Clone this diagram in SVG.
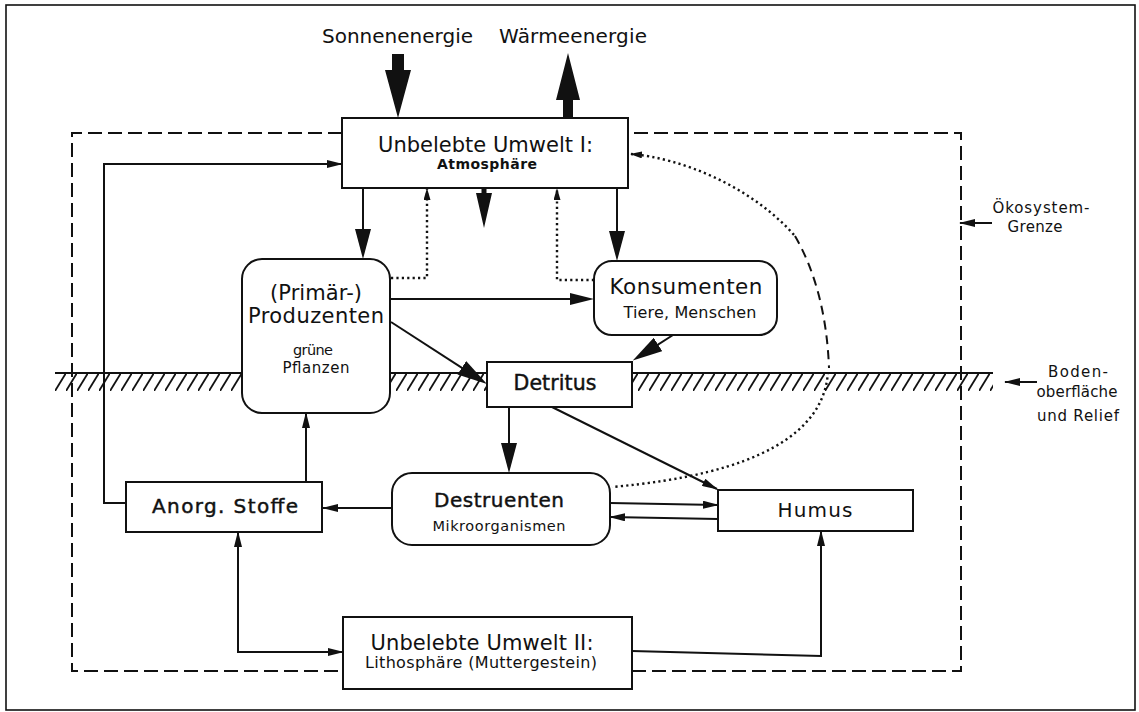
<svg xmlns="http://www.w3.org/2000/svg" width="1139" height="712" viewBox="0 0 1139 712">
<style>
text{font-family:"DejaVu Sans","Liberation Sans",sans-serif;fill:#111;text-anchor:middle}
.box{fill:#fff;stroke:#111;stroke-width:2}
.ln{fill:none;stroke:#111;stroke-width:2}
.dot{fill:none;stroke:#111;stroke-width:2.4;stroke-dasharray:2.2 3.2}
.dash{fill:none;stroke:#111;stroke-width:2;stroke-dasharray:14 6}
.semi{stroke:#111;stroke-width:0.45}
</style>
<defs>
<marker id="ah" viewBox="0 0 16 8" markerWidth="16" markerHeight="8" refX="15" refY="4" orient="auto-start-reverse" markerUnits="userSpaceOnUse"><path d="M0,0 L16,4 L0,8 Z" fill="#111"/></marker>
<marker id="ahs" viewBox="0 0 12 7" markerWidth="12" markerHeight="7" refX="11" refY="3.5" orient="auto-start-reverse" markerUnits="userSpaceOnUse"><path d="M0,0 L12,3.5 L0,7 Z" fill="#111"/></marker>
<marker id="ahm" viewBox="0 0 24 12" markerWidth="24" markerHeight="12" refX="6" refY="6" orient="auto" markerUnits="userSpaceOnUse"><path d="M0,0 L24,6 L0,12 Z" fill="#111"/></marker>
<marker id="ahb" viewBox="0 0 30 16" markerWidth="30" markerHeight="16" refX="8" refY="8" orient="auto" markerUnits="userSpaceOnUse"><path d="M0,0 L30,8 L0,16 Z" fill="#111"/></marker>
<pattern id="hatch" patternUnits="userSpaceOnUse" x="0" y="373" width="11" height="18"><path d="M0,18 L11,0" stroke="#111" stroke-width="1.8"/></pattern>
</defs>
<rect x="0" y="0" width="1139" height="712" fill="#fff"/>
<rect x="6" y="5" width="1129" height="705" fill="none" stroke="#111" stroke-width="1.6"/>

<g id="ground">
<rect x="55" y="373" width="938" height="18" fill="url(#hatch)"/>
<path d="M55,373 H993" class="ln" stroke-width="1.6"/>
</g>

<g id="boundary">
<path class="dash" d="M342,133 H72 V671 H343"/>
<path class="dash" d="M632,671 H961 V133 H628"/>
</g>

<g id="connectors">
<!-- energy -->
<path d="M392,54 H404 V70 H411 L398,118 L385,70 H392 Z" fill="#111"/>
<path d="M568,53 L580,100 H573 V118 H563 V100 H556 Z" fill="#111"/>
<!-- atmosphere down arrows -->
<path class="ln" stroke-width="5" d="M363,188 V237" marker-end="url(#ahb)"/>
<path d="M481.5,188 H486.5 V193 H492 L484,228 L476,193 H481.5 Z" fill="#111"/>
<path class="ln" stroke-width="5" d="M617,188 V239" marker-end="url(#ahb)"/>
<!-- dotted returns to atmosphere -->
<path class="dot" d="M391,278 H427 V189" marker-end="url(#ahs)"/>
<path class="dot" d="M594,280 H557 V189" marker-end="url(#ahs)"/>
<!-- producers -> consumers -->
<path class="ln" stroke-width="2.5" d="M390,299 H576" marker-end="url(#ahm)"/>
<!-- producers -> detritus -->
<path class="ln" stroke-width="5" d="M391,322 L468.5,372.1" marker-end="url(#ahb)"/>
<!-- consumers -> detritus -->
<path class="ln" stroke-width="6" d="M673,335 L651.3,348.8" marker-end="url(#ahb)"/>
<!-- detritus -> destruenten -->
<path class="ln" stroke-width="4" d="M509,407 V451" marker-end="url(#ahb)"/>
<!-- detritus -> humus -->
<path class="ln" stroke-width="2.2" d="M552,407 L717,489" marker-end="url(#ah)"/>
<!-- destruenten <-> humus -->
<path class="ln" d="M610,503 L718,505" marker-end="url(#ah)"/>
<path class="ln" d="M718,519 L610,517" marker-end="url(#ah)"/>
<!-- destruenten -> anorg -->
<path class="ln" d="M392,508 H323" marker-end="url(#ah)"/>
<!-- anorg -> producers -->
<path class="ln" d="M306,482 V413" marker-end="url(#ah)"/>
<!-- anorg -> atmosphere -->
<path class="ln" d="M126,503 H104 V164 H342" marker-end="url(#ah)"/>
<!-- lithosphere <-> anorg -->
<path class="ln" d="M343,652 H238 V532" marker-start="url(#ah)" marker-end="url(#ah)"/>
<!-- lithosphere -> humus -->
<path class="ln" d="M632,651 L821,656 V531" marker-end="url(#ah)"/>
<!-- dotted/dashed cycle destruenten -> atmosphere -->
<path class="dot" d="M631,154 C680,158 750,185 795,236" marker-start="url(#ahs)"/>
<path class="ln" stroke-dasharray="9 6" d="M795,236 Q826,290 829,368"/>
<path class="dot" d="M828,372 C824,432 760,474 612,487"/>
<!-- label pointers -->
<path class="ln" stroke-width="1.8" d="M992,223 H960" marker-end="url(#ah)"/>
<path class="ln" stroke-width="1.8" d="M1037,382 H1005" marker-end="url(#ah)"/>
</g>

<g id="atmosphaere">
<rect class="box" x="342" y="118" width="286" height="70"/>
<text x="485.5" y="152" font-size="21" textLength="215">Unbelebte Umwelt I:</text>
<text x="487" y="169" font-size="14" font-weight="bold" textLength="100">Atmosphäre</text>
</g>

<g id="produzenten">
<rect class="box" x="242" y="259" width="148" height="154" rx="20"/>
<text x="316" y="300" font-size="21" textLength="92">(Primär-)</text>
<text x="316" y="323" font-size="21" textLength="136">Produzenten</text>
<text x="313" y="355" font-size="14.5" textLength="40">grüne</text>
<text x="316" y="373" font-size="15" textLength="67">Pflanzen</text>
</g>

<g id="konsumenten">
<rect class="box" x="594" y="261" width="183" height="74" rx="18"/>
<text x="686" y="294" font-size="21.5" textLength="153">Konsumenten</text>
<text x="690" y="318" font-size="16" textLength="133">Tiere, Menschen</text>
</g>

<g id="detritus">
<rect class="box" x="487" y="362" width="145" height="45"/>
<text x="555" y="390" font-size="20.5" class="semi" textLength="83">Detritus</text>
</g>

<g id="destruenten">
<rect class="box" x="392" y="473" width="218" height="72" rx="20"/>
<text x="499" y="507" font-size="20" class="semi" textLength="130">Destruenten</text>
<text x="499" y="531" font-size="14.5" textLength="133">Mikroorganismen</text>
</g>

<g id="humus">
<rect class="box" x="718" y="490" width="195" height="41"/>
<text x="815" y="517" font-size="20" textLength="75">Humus</text>
</g>

<g id="anorg">
<rect class="box" x="126" y="482" width="196" height="50"/>
<text x="225" y="513" font-size="20" class="semi" textLength="146">Anorg. Stoffe</text>
</g>

<g id="lithosphaere">
<rect class="box" x="343" y="617" width="289" height="72"/>
<text x="482" y="650" font-size="21" textLength="223">Unbelebte Umwelt II:</text>
<text x="481" y="668" font-size="16" textLength="232">Lithosphäre (Muttergestein)</text>
</g>

<g id="labels">
<text x="397.5" y="43" font-size="20" textLength="151">Sonnenenergie</text>
<text x="573" y="43" font-size="20" textLength="148">Wärmeenergie</text>
<text x="1041" y="213" font-size="15" textLength="97">Ökosystem-</text>
<text x="1035" y="232" font-size="15" textLength="55">Grenze</text>
<text x="1078" y="377" font-size="15" textLength="60">Boden-</text>
<text x="1077" y="397" font-size="15" textLength="81">oberfläche</text>
<text x="1078" y="421" font-size="15" textLength="82">und Relief</text>
</g>
</svg>
